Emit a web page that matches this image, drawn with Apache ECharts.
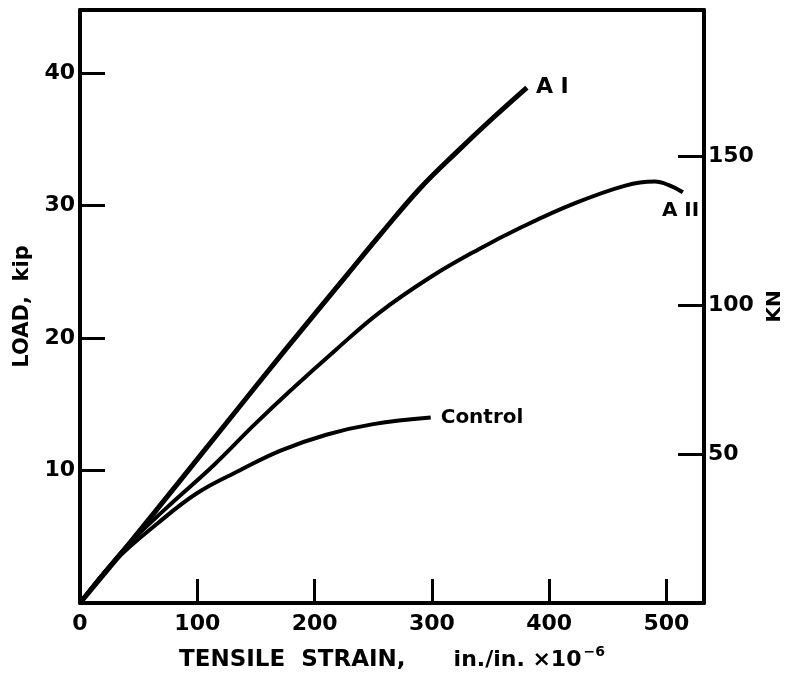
<!DOCTYPE html>
<html>
<head>
<meta charset="utf-8">
<script src="https://cdn.jsdelivr.net/npm/echarts@6/dist/echarts.min.js"></script>
<style>
  html, body { margin: 0; padding: 0; background: #fff; }
  #main { width: 788px; height: 679px; }
</style>
</head>
<body>
<div id="main"></div>
<script>
// strain (in./in. x 10^-6) and load (kip)
var strainAI = [0, 43, 85, 125, 175, 228, 256, 290, 322, 352, 381];
var loadAI   = [0, 4.6, 9.2, 13.6, 19.1, 24.8, 27.8, 31.3, 34.1, 36.6, 38.9];

var strainAII = [0, 40, 74, 114, 148, 179, 218, 255, 299, 340, 375, 420, 465, 490, 503, 514];
var loadAII   = [0, 4.3, 7.2, 10.4, 13.4, 16.0, 19.1, 21.9, 24.6, 26.7, 28.3, 30.1, 31.5, 31.8, 31.5, 31.0];

var strainControl = [0, 30, 66, 100, 136, 171, 210, 250, 299];
var loadControl   = [0, 3.2, 6.0, 8.3, 10.0, 11.5, 12.7, 13.5, 14.0];

var xTicks = [0, 100, 200, 300, 400, 500];
var kipTicks = [10, 20, 30, 40];
var kNTicks = [50, 100, 150];

var KIP_TO_KN = 4.448;
var xMax = 532;
var kipMax = 44.75;

function pairs(xs, ys) {
    var out = [];
    for (var i = 0; i < xs.length; i++) out.push([xs[i], ys[i]]);
    return out;
}

var fontFam = 'DejaVu Sans';
var ink = '#000';

var myChart = echarts.init(document.getElementById('main'));
var option = {
    backgroundColor: '#fff',
    animation: false,
    grid: { left: 80, right: 84, top: 10, bottom: 76, outerBoundsMode: 'none', containLabel: false },
    xAxis: [{
        type: 'value',
        position: 'bottom',
        min: 0,
        max: xMax,
        interval: 100,
        name: '{a|TENSILE  STRAIN,      }{b|in./in. ×10}{c|−6}',
        nameLocation: 'middle',
        nameGap: 42,
        nameTextStyle: {
            color: ink,
            rich: {
                a: { fontFamily: fontFam, fontWeight: 'bold', fontSize: 23, color: ink },
                b: { fontFamily: fontFam, fontWeight: 'bold', fontSize: 22, color: ink },
                c: { fontFamily: fontFam, fontWeight: 'bold', fontSize: 14, color: ink, padding: [0, 0, 16, 2] }
            }
        },
        axisLine: { show: true, onZero: false, lineStyle: { color: ink, width: 4 } },
        axisTick: { show: true, inside: true, length: 24, lineStyle: { color: ink, width: 3 } },
        axisLabel: {
            showMaxLabel: false,
            margin: 10,
            color: ink, fontFamily: fontFam, fontWeight: 'bold', fontSize: 22,
            formatter: function (v) { return xTicks.indexOf(v) >= 0 ? String(v) : ''; }
        },
        splitLine: { show: false }
    }, {
        type: 'value',
        position: 'top',
        min: 0,
        max: xMax,
        interval: 100,
        axisLine: { show: true, onZero: false, lineStyle: { color: ink, width: 4 } },
        axisTick: { show: false },
        axisLabel: { show: false },
        splitLine: { show: false }
    }],
    yAxis: [{
        type: 'value',
        position: 'left',
        min: 0,
        max: kipMax,
        interval: 10,
        name: 'LOAD,  kip',
        nameLocation: 'middle',
        nameRotate: 90,
        nameGap: 46,
        nameTextStyle: { color: ink, fontFamily: fontFam, fontWeight: 'bold', fontSize: 21 },
        axisLine: { show: true, onZero: false, lineStyle: { color: ink, width: 4 } },
        axisTick: { show: true, inside: true, length: 25, lineStyle: { color: ink, width: 3 } },
        axisLabel: {
            showMinLabel: false,
            showMaxLabel: false,
            margin: 5,
            color: ink, fontFamily: fontFam, fontWeight: 'bold', fontSize: 22,
            formatter: function (v) { return kipTicks.indexOf(v) >= 0 ? String(v) : ''; }
        },
        splitLine: { show: false }
    }, {
        type: 'value',
        position: 'right',
        min: 0,
        max: kipMax * KIP_TO_KN,
        interval: 50,
        name: 'KN',
        nameLocation: 'middle',
        nameRotate: 90,
        nameGap: 61,
        nameTextStyle: { color: ink, fontFamily: fontFam, fontWeight: 'bold', fontSize: 20 },
        axisLine: { show: true, onZero: false, lineStyle: { color: ink, width: 4 } },
        axisTick: { show: true, inside: true, length: 26, lineStyle: { color: ink, width: 3 } },
        axisLabel: {
            showMinLabel: false,
            showMaxLabel: false,
            margin: 4,
            color: ink, fontFamily: fontFam, fontWeight: 'bold', fontSize: 22,
            formatter: function (v) { return kNTicks.indexOf(v) >= 0 ? String(v) : ''; }
        },
        splitLine: { show: false }
    }],
    series: [{
        name: 'A I',
        type: 'line',
        smooth: 0.4,
        showSymbol: false,
        lineStyle: { color: ink, width: 5 },
        data: pairs(strainAI, loadAI),
        endLabel: {
            show: true, position: 'right', distance: 9,
            formatter: 'A I',
            color: ink, fontFamily: fontFam, fontWeight: 'bold', fontSize: 22
        }
    }, {
        name: 'A II',
        type: 'line',
        smooth: 0.4,
        showSymbol: false,
        lineStyle: { color: ink, width: 4 },
        data: pairs(strainAII, loadAII),
        endLabel: {
            show: true, position: 'right', distance: 4, offset: [-25, 19],
            formatter: 'A II',
            color: ink, fontFamily: fontFam, fontWeight: 'bold', fontSize: 20
        }
    }, {
        name: 'Control',
        type: 'line',
        smooth: 0.4,
        showSymbol: false,
        lineStyle: { color: ink, width: 4 },
        data: pairs(strainControl, loadControl),
        endLabel: {
            show: true, position: 'right', distance: 10,
            formatter: 'Control',
            color: ink, fontFamily: fontFam, fontWeight: 'bold', fontSize: 20
        }
    }]
};
myChart.setOption(option);
</script>
</body>
</html>
